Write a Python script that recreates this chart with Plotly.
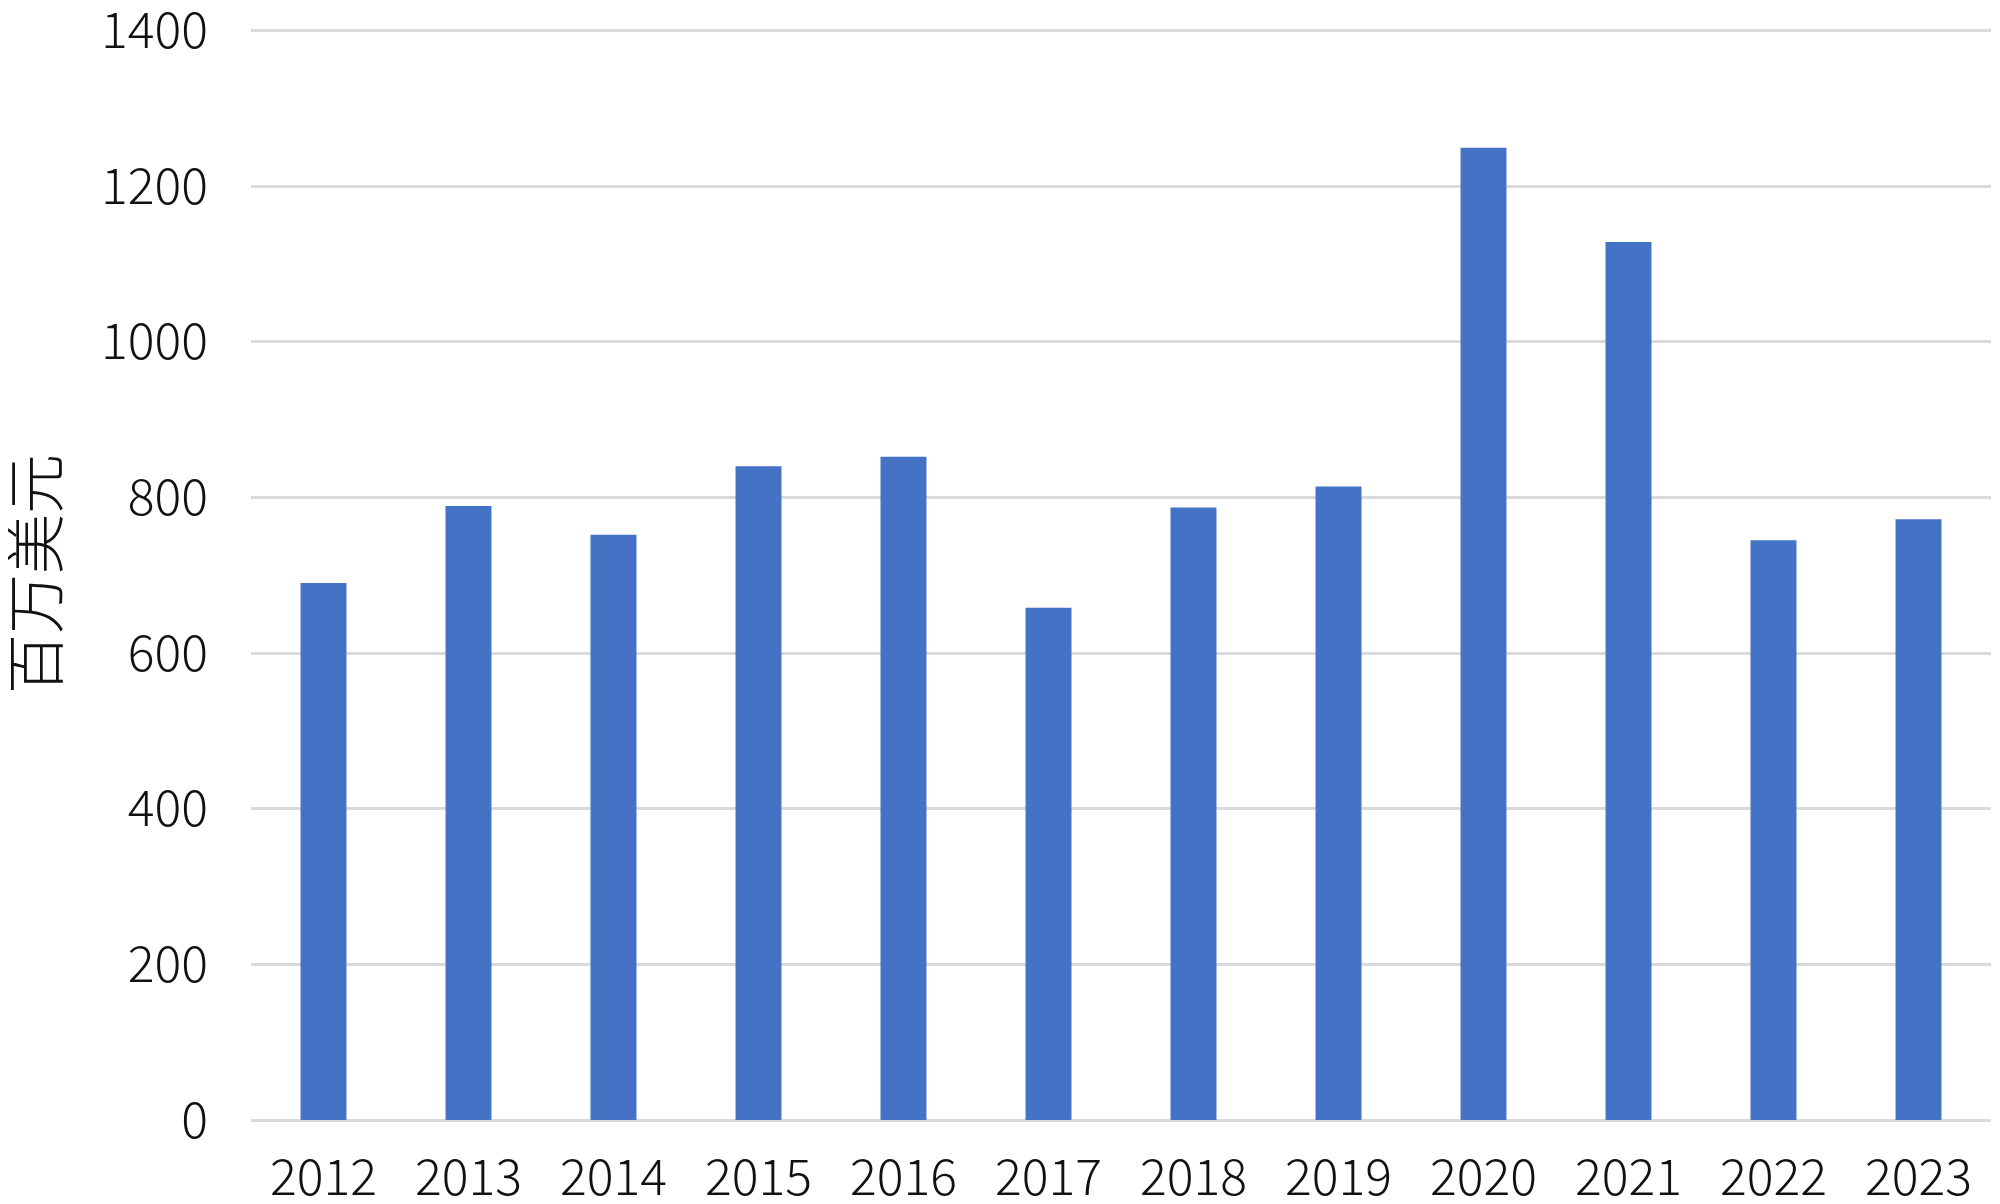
import plotly.graph_objects as go

years = ["2012", "2013", "2014", "2015", "2016", "2017", "2018", "2019", "2020", "2021", "2022", "2023"]
values = [690, 789, 752, 840, 852, 658, 787, 814, 1249, 1128, 745, 772]
y_ticks = [0, 200, 400, 600, 800, 1000, 1200, 1400]
y_title = "百万美元"

FONT = "Noto Sans CJK JP"
GRID = "#dadada"
TXT = "#111111"

fig = go.Figure(
    go.Bar(x=years, y=values, marker=dict(color="#4472C4", line=dict(width=0)))
)

# page body has an 8px margin, so the figure is sized to fit the window
W, H = 1992, 1196
L, R, T, B = 243, 9, 20, 84

fig.update_layout(
    width=W,
    height=H,
    margin=dict(l=L, r=R, t=T, b=B, pad=0),
    paper_bgcolor="white",
    plot_bgcolor="white",
    bargap=0.683,
    showlegend=False,
    font=dict(family=FONT, size=50, color=TXT, weight=300),
)

fig.update_xaxes(
    type="category",
    automargin=False,
    showgrid=False,
    showline=False,
    ticks="",
    tickfont=dict(family=FONT, size=50, color=TXT, weight=300),
    ticklabelstandoff=24,
    ticklabeloverflow="allow",
)

fig.update_yaxes(
    range=[0, 1403],
    automargin=False,
    tickvals=y_ticks,
    ticktext=[str(v) for v in y_ticks],
    showgrid=True,
    gridcolor=GRID,
    gridwidth=3,
    zeroline=True,
    zerolinecolor=GRID,
    zerolinewidth=3,
    showline=False,
    ticks="",
    tickfont=dict(family=FONT, size=50, color=TXT, weight=300),
    ticklabelstandoff=42,
    ticklabeloverflow="allow",
)

fig.add_annotation(
    text=y_title,
    xref="paper",
    yref="paper",
    x=(23 - L) / (W - L - R),
    y=0.5,
    xanchor="center",
    yanchor="middle",
    textangle=-90,
    showarrow=False,
    font=dict(family=FONT, size=60, color=TXT, weight=300),
)

fig.write_html("out.html")
